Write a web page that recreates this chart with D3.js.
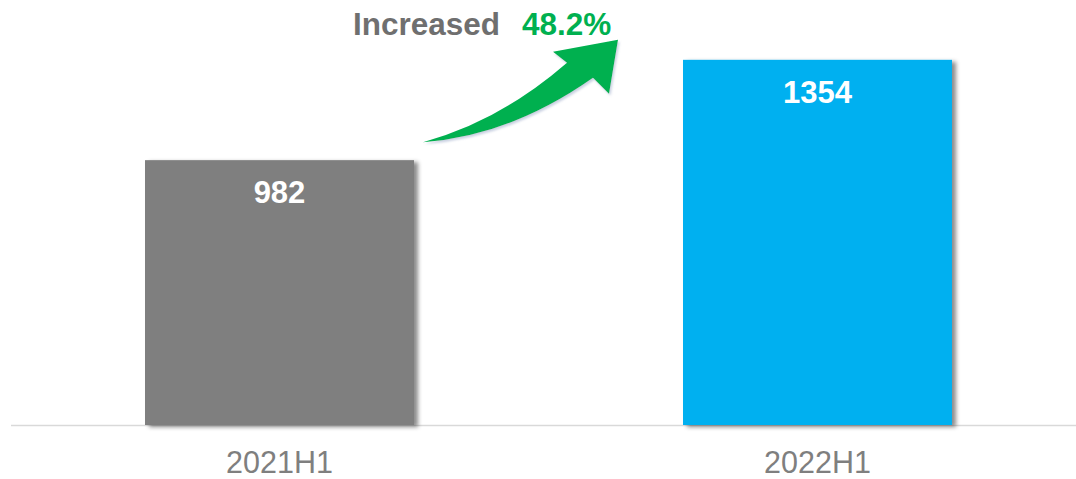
<!DOCTYPE html>
<html>
<head>
<meta charset="utf-8">
<script src="https://cdn.jsdelivr.net/npm/d3@7"></script>
<style>
  html, body { margin: 0; padding: 0; background: #ffffff; }
  svg { display: block; font-family: "Liberation Sans", Arial, sans-serif; }
</style>
</head>
<body>
<svg id="chart" width="1076" height="479"></svg>
<script>
const categories = ["2021H1", "2022H1"];
const values = [982, 1354];
const barColors = ["#7f7f7f", "#00b0f0"];
const titleLabel = "Increased";
const growthLabel = "48.2%";

const svg = d3.select("#chart");
const baseY = 425;

const x = d3.scaleBand()
  .domain(categories)
  .range([10.5, 1086.5])
  .paddingInner(0.5)
  .paddingOuter(0.25);

const y = d3.scaleLinear()
  .domain([0, 1400])
  .range([baseY, baseY - 1400 * 0.2697]);

const defs = svg.append("defs");
const sh = defs.append("filter").attr("id", "barShadow")
  .attr("x", "-10%").attr("y", "-10%").attr("width", "125%").attr("height", "125%");
sh.append("feDropShadow").attr("dx", 4).attr("dy", 2).attr("stdDeviation", 2.2)
  .attr("flood-color", "#000").attr("flood-opacity", 0.45);

const ash = defs.append("filter").attr("id", "arrowShadow")
  .attr("x", "-10%").attr("y", "-10%").attr("width", "130%").attr("height", "130%");
ash.append("feDropShadow").attr("dx", 1.5).attr("dy", 2).attr("stdDeviation", 1)
  .attr("flood-color", "#8a9ac0").attr("flood-opacity", 0.45);

// axis
const axis = svg.append("g")
  .attr("transform", `translate(0,${baseY})`)
  .call(d3.axisBottom(x).tickSize(0).tickPadding(0));
axis.select(".domain").attr("stroke", "#d9d9d9").attr("stroke-width", 1.5);
axis.selectAll(".tick text")
  .attr("fill", "#7f7f7f")
  .attr("font-size", 30.5)
  .attr("font-family", "Liberation Sans, Arial, sans-serif")
  .attr("dy", null)
  .attr("y", 47.5);

// bars
const data = categories.map((c, i) => ({ c, v: values[i], color: barColors[i] }));
svg.append("g").selectAll("rect").data(data).join("rect")
  .attr("x", d => x(d.c))
  .attr("y", d => y(d.v))
  .attr("width", x.bandwidth())
  .attr("height", d => y(0) - y(d.v))
  .attr("fill", d => d.color)
  .attr("filter", "url(#barShadow)");

svg.append("g").selectAll("text").data(data).join("text")
  .attr("x", d => x(d.c) + x.bandwidth() / 2)
  .attr("y", d => y(d.v) + 43)
  .attr("text-anchor", "middle")
  .attr("fill", "#ffffff")
  .attr("font-weight", "bold")
  .attr("font-size", 31)
  .text(d => String(d.v));

// growth arrow annotation, anchored to the bars
const x1r = x(categories[0]) + x.bandwidth();
const y1t = y(values[0]);
const x2l = x(categories[1]);
const y2t = y(values[1]);
const tail = [x1r + 9, y1t - 18];
const ctrlU = [x1r + 86, y1t - 39];
const upIn = [x2l - 116, y2t + 3];
const upOut = [x2l - 130, y2t - 8];
const tip = [x2l - 65, y2t - 20];
const lowOut = [x2l - 74, y2t + 34];
const lowIn = [x2l - 90, y2t + 18];
const ctrlL = [x1r + 96, y1t - 24];

const ap = d3.path();
ap.moveTo(...tail);
ap.quadraticCurveTo(...ctrlU, ...upIn);
ap.lineTo(...upOut);
ap.lineTo(...tip);
ap.lineTo(...lowOut);
ap.lineTo(...lowIn);
ap.quadraticCurveTo(...ctrlL, ...tail);
ap.closePath();
svg.append("path")
  .attr("d", ap.toString())
  .attr("fill", "#00b050")
  .attr("filter", "url(#arrowShadow)");

// title
const t = svg.append("text")
  .attr("x", 353)
  .attr("y", 35)
  .attr("font-weight", "bold")
  .attr("font-size", 31.5);
t.append("tspan").attr("fill", "#6f6f6f").text(titleLabel);
t.append("tspan").attr("x", 522).attr("fill", "#00b050").text(growthLabel);
</script>
</body>
</html>
